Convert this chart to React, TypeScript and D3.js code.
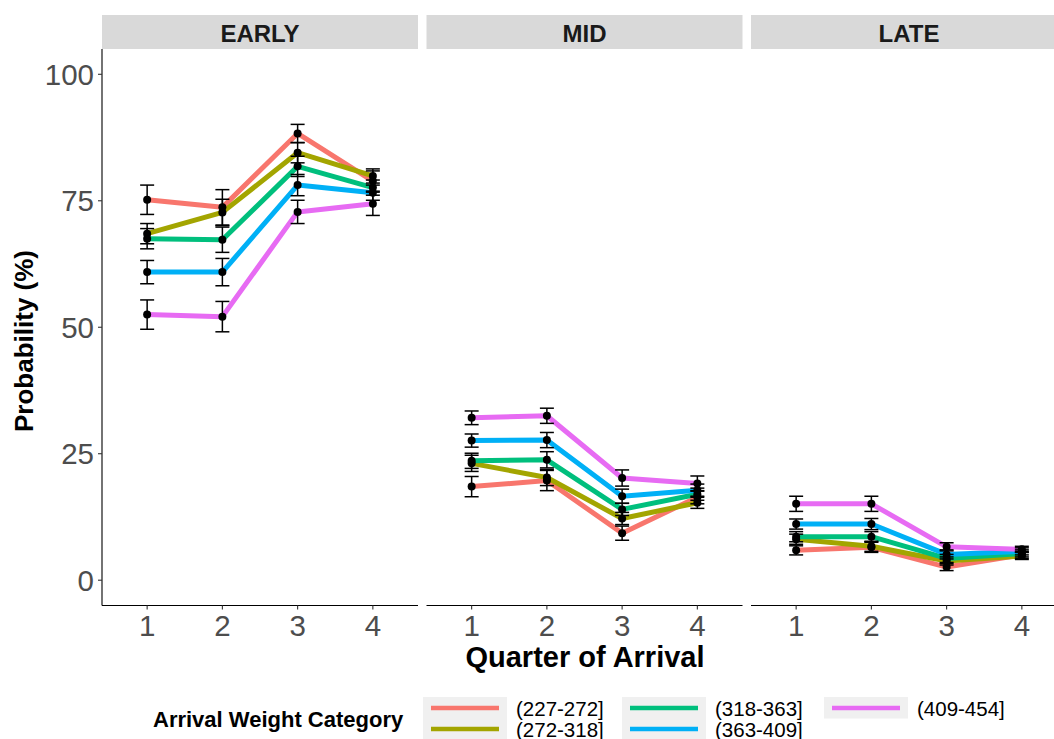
import React from "react";
import * as d3 from "d3";

// facets, quarters and weight categories
const periods = ["EARLY", "MID", "LATE"];
const quarters = ["1", "2", "3", "4"];
const categories = ["(227-272]", "(272-318]", "(318-363]", "(363-409]", "(409-454]"];
const colors = ["#F8766D", "#A3A500", "#00BF7D", "#00B0F6", "#E76BF3"];

// probability (%) per category, one row per category, one array per period
const earlyVals = [
  [75.2, 73.7, 88.3, 78.9],
  [68.5, 72.7, 84.5, 79.9],
  [67.5, 67.3, 81.8, 77.6],
  [60.9, 60.9, 78.1, 76.6],
  [52.5, 52.1, 72.8, 74.4],
];
const earlyErr = [
  [2.9, 3.5, 1.8, 2.0],
  [2.0, 2.6, 2.0, 1.4],
  [2.0, 2.5, 2.0, 1.5],
  [2.3, 2.7, 2.1, 1.5],
  [2.9, 3.0, 2.3, 2.3],
];
const midVals = [
  [18.5, 19.7, 9.3, 16.4],
  [23.1, 20.3, 12.2, 15.3],
  [23.6, 23.8, 14.0, 17.0],
  [27.6, 27.7, 16.6, 17.8],
  [32.1, 32.5, 20.2, 19.1],
];
const midErr = [
  [2.0, 2.0, 1.4, 1.3],
  [1.6, 1.6, 1.2, 1.1],
  [1.5, 1.6, 1.2, 1.2],
  [1.3, 1.5, 1.4, 1.2],
  [1.35, 1.5, 1.6, 1.5],
];
const lateVals = [
  [5.9, 6.5, 2.6, 5.0],
  [8.1, 6.7, 3.8, 4.8],
  [8.6, 8.6, 4.3, 5.3],
  [11.1, 11.1, 5.1, 5.7],
  [15.1, 15.1, 6.6, 6.1],
];
const lateErr = [
  [0.9, 1.0, 0.7, 0.7],
  [1.0, 1.0, 0.8, 0.7],
  [1.0, 1.0, 0.8, 0.7],
  [1.0, 1.1, 0.9, 0.7],
  [1.5, 1.5, 0.8, 0.6],
];
const yTicks = [0, 25, 50, 75, 100];

const panelVals = [earlyVals, midVals, lateVals];
const panelErr = [earlyErr, midErr, lateErr];

const font = "Arial, 'Liberation Sans', Helvetica, sans-serif";

export default function App() {
  const width = 1054;
  const height = 739;
  const panelW = 316;
  const panelX = [102, 426.5, 751];
  const stripTop = 15;
  const panelTop = 49;
  const panelBottom = 605.5;

  const y = d3.scaleLinear().domain([-5, 105]).range([panelBottom, panelTop]);

  const legendCols = [423, 622, 824];
  const legendRows = [697, 718];

  return (
    <svg width={width} height={height} style={{ position: "absolute", left: 0, top: 0, background: "#fff" }} fontFamily={font}>
      {/* y axis */}
      <line x1={102} x2={102} y1={panelTop} y2={panelBottom} stroke="#000" strokeWidth={1.1} />
      {yTicks.map((t) => (
        <g key={t}>
          <line x1={98} x2={102} y1={y(t)} y2={y(t)} stroke="#333" strokeWidth={1.1} />
          <text x={94} y={y(t)} dy="0.36em" textAnchor="end" fontSize={29.5} fill="#4D4D4D">{t}</text>
        </g>
      ))}
      <text transform={`translate(33,341) rotate(-90)`} textAnchor="middle" fontSize={26} fontWeight="bold" fill="#000">Probability (%)</text>

      {periods.map((p, pi) => {
        const x0 = panelX[pi];
        const x = d3.scalePoint().domain(quarters).range([x0, x0 + panelW]).padding(0.6);
        const line = d3.line<number>().x((_, i) => x(quarters[i]) as number).y((v) => y(v));
        const vals = panelVals[pi];
        const errs = panelErr[pi];
        return (
          <g key={p}>
            <rect x={x0} y={stripTop} width={panelW} height={panelTop - stripTop} fill="#D9D9D9" />
            <text x={x0 + panelW / 2} y={41.5} textAnchor="middle" fontSize={24} fontWeight="bold" fill="#1A1A1A">{p}</text>
            <line x1={x0} x2={x0 + panelW} y1={panelBottom} y2={panelBottom} stroke="#000" strokeWidth={1.1} />
            {quarters.map((q) => (
              <g key={q}>
                <line x1={x(q)} x2={x(q)} y1={panelBottom} y2={panelBottom + 4} stroke="#333" strokeWidth={1.1} />
                <text x={x(q)} y={636} textAnchor="middle" fontSize={29.5} fill="#4D4D4D">{q}</text>
              </g>
            ))}
            {vals.map((row, ci) => (
              <path key={"l" + ci} d={line(row) || ""} fill="none" stroke={colors[ci]} strokeWidth={5} strokeLinejoin="round" />
            ))}
            {vals.map((row, ci) =>
              row.map((v, qi) => {
                const cx = x(quarters[qi]) as number;
                const e = errs[ci][qi];
                return (
                  <g key={"e" + ci + qi} stroke="#000" strokeWidth={1.5}>
                    <line x1={cx} x2={cx} y1={y(v + e)} y2={y(v - e)} />
                    <line x1={cx - 7} x2={cx + 7} y1={y(v + e)} y2={y(v + e)} />
                    <line x1={cx - 7} x2={cx + 7} y1={y(v - e)} y2={y(v - e)} />
                  </g>
                );
              })
            )}
            {vals.map((row, ci) =>
              row.map((v, qi) => (
                <circle key={"p" + ci + qi} cx={x(quarters[qi]) as number} cy={y(v)} r={4} fill="#000" />
              ))
            )}
          </g>
        );
      })}

      <text x={585} y={667} textAnchor="middle" fontSize={29} fontWeight="bold" fill="#000">Quarter of Arrival</text>

      {/* legend */}
      <text x={153} y={727} fontSize={22} fontWeight="bold" fill="#000">Arrival Weight Category</text>
      {categories.map((c, i) => {
        const col = Math.floor(i / 2);
        const row = i % 2;
        const bx = legendCols[col];
        const by = legendRows[row];
        return (
          <g key={c}>
            <rect x={bx} y={by} width={84} height={21.5} fill="#F0F0F0" />
            <line x1={bx + 8} x2={bx + 76} y1={by + 11} y2={by + 11} stroke={colors[i]} strokeWidth={4.6} />
            <text x={bx + 93} y={by + 18.5} fontSize={20.5} fill="#000">{c}</text>
          </g>
        );
      })}
    </svg>
  );
}
